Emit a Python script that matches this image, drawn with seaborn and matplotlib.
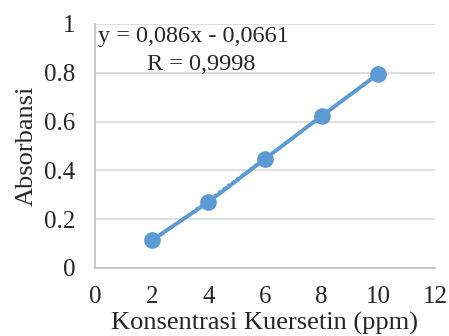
import numpy as np
import pandas as pd
import seaborn as sns
import matplotlib.pyplot as plt

konsentrasi = [2, 4, 6, 8, 10]
absorbansi = [0.113, 0.270, 0.447, 0.623, 0.796]
slope = 0.086
intercept = -0.0661

data = pd.DataFrame({"Konsentrasi": konsentrasi, "Absorbansi": absorbansi})

sns.set_style("white")
plt.rcParams['font.family'] = ['Liberation Serif', 'DejaVu Serif']
blue = "#5B9BD5"

fig = plt.figure(figsize=(4.49, 3.36), dpi=100)
ax = fig.add_axes([0.2116, 0.2024, 0.7572, 0.7262])

# trendline (linear fit)
xs = np.array([konsentrasi[0], konsentrasi[-1]])
ax.plot(xs, slope * xs + intercept, color=blue, lw=2, ls=(0, (1, 1)))

sns.lineplot(data=data, x="Konsentrasi", y="Absorbansi", ax=ax, color=blue,
             lw=2.8, marker="o", markersize=12, markeredgewidth=0, zorder=3)

ax.set_xlim(0, 12)
ax.set_ylim(0, 1)
ax.set_xticks(range(0, 13, 2))
ax.set_yticks([0, 0.2, 0.4, 0.6, 0.8, 1])
ax.set_yticklabels(["0", "0.2", "0.4", "0.6", "0.8", "1"])
ax.yaxis.grid(True, color="#D9D9D9", lw=1.2)
for s in ["top", "right"]:
    ax.spines[s].set_visible(False)
for s in ["left", "bottom"]:
    ax.spines[s].set_color("#BFBFBF")
    ax.spines[s].set_linewidth(1.2)
ax.tick_params(axis="both", length=4, width=1, color="#BFBFBF",
               labelsize=18, direction="out")
ax.tick_params(axis="x", pad=9)
ax.tick_params(axis="y", pad=10)
ax.set_xlabel("Konsentrasi Kuersetin (ppm)", fontsize=19)
ax.xaxis.set_label_coords(0.5, -0.182)
ax.set_ylabel("Absorbansi", fontsize=19, labelpad=5)

ax.text(0.1, 0.95, "y = 0,086x - 0,0661", fontsize=17.5, va="center")
ax.text(1.85, 0.835, "R = 0,9998", fontsize=17.5, va="center")

fig.savefig("out.png", dpi=100)
